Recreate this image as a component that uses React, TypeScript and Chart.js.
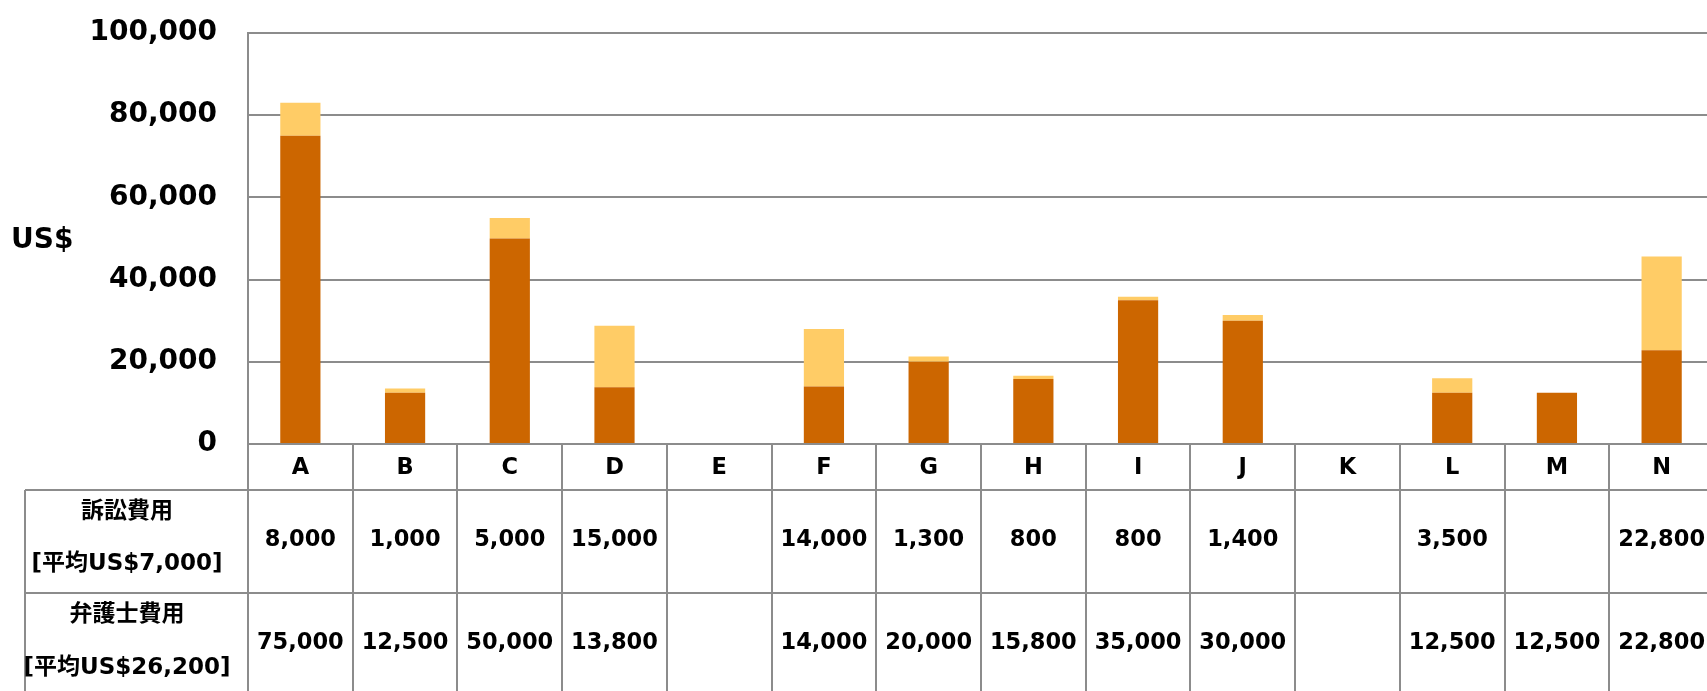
import React, { useEffect, useRef } from "react";
import { Chart, registerables } from "chart.js";

Chart.register(...registerables);

const categories = ["A", "B", "C", "D", "E", "F", "G", "H", "I", "J", "K", "L", "M", "N"];
const litigationCosts: (number | null)[] = [8000, 1000, 5000, 15000, null, 14000, 1300, 800, 800, 1400, null, 3500, null, 22800];
const attorneyFees: (number | null)[] = [75000, 12500, 50000, 13800, null, 14000, 20000, 15800, 35000, 30000, null, 12500, 12500, 22800];
const litigationLabel = ["訴訟費用", "[平均US$7,000]"];
const attorneyLabel = ["弁護士費用", "[平均US$26,200]"];
const yTicks = { min: 0, max: 100000, step: 20000 };
const yUnit = "US$";

const FONT = "'DejaVu Sans', 'Noto Sans CJK JP', sans-serif";
const LINE = "#8c8c8c";

const tablePlugin = {
  id: "dataTable",
  afterDraw(chart: any) {
    const ctx = chart.ctx;
    const x = chart.scales.x;
    const area = chart.chartArea;
    const n = categories.length;
    const bottom = chart.height;
    const axisY = area.bottom;
    const headerBottom = axisY + 46;
    const row1Bottom = headerBottom + 103;
    const tableLeft = 25;
    const bounds: number[] = [];
    for (let i = 0; i <= n; i++) {
      if (i === 0) bounds.push(x.left);
      else if (i === n) bounds.push(x.right);
      else bounds.push((x.getPixelForValue(i - 1) + x.getPixelForValue(i)) / 2);
    }
    ctx.save();
    ctx.strokeStyle = LINE;
    ctx.lineWidth = 2;
    ctx.beginPath();
    for (let i = 0; i < n; i++) {
      ctx.moveTo(Math.round(bounds[i]), axisY);
      ctx.lineTo(Math.round(bounds[i]), bottom);
    }
    ctx.moveTo(tableLeft, headerBottom);
    ctx.lineTo(tableLeft, bottom);
    ctx.moveTo(tableLeft, headerBottom);
    ctx.lineTo(x.right, headerBottom);
    ctx.moveTo(tableLeft, row1Bottom);
    ctx.lineTo(x.right, row1Bottom);
    ctx.stroke();

    ctx.fillStyle = "#000";
    ctx.textAlign = "center";
    ctx.textBaseline = "middle";
    ctx.font = `bold 22.5px ${FONT}`;
    for (let i = 0; i < n; i++) {
      const cx = x.getPixelForValue(i);
      const a = litigationCosts[i];
      const b = attorneyFees[i];
      if (a != null) ctx.fillText(a.toLocaleString("en-US"), cx, headerBottom + 50);
      if (b != null) ctx.fillText(b.toLocaleString("en-US"), cx, row1Bottom + 50);
    }
    ctx.font = `bold 23px ${FONT}`;
    const hx = 127;
    ctx.fillText(litigationLabel[0], hx, headerBottom + 22);
    ctx.fillText(litigationLabel[1], hx, headerBottom + 74);
    ctx.fillText(attorneyLabel[0], hx, row1Bottom + 22);
    ctx.fillText(attorneyLabel[1], hx, row1Bottom + 75);

    ctx.textAlign = "left";
    ctx.font = `bold 28px ${FONT}`;
    ctx.fillText(yUnit, 11, 241);
    ctx.restore();
  },
};

export default function App() {
  const ref = useRef<HTMLCanvasElement | null>(null);
  useEffect(() => {
    if (!ref.current) return;
    const chart = new Chart(ref.current, {
      type: "bar",
      data: {
        labels: categories,
        datasets: [
          {
            label: "弁護士費用",
            data: attorneyFees,
            backgroundColor: "#CC6600",
            categoryPercentage: 0.8,
            barPercentage: 0.48,
          },
          {
            label: "訴訟費用",
            data: litigationCosts,
            backgroundColor: "#FFCC66",
            categoryPercentage: 0.8,
            barPercentage: 0.48,
          },
        ],
      },
      options: {
        responsive: false,
        animation: false,
        devicePixelRatio: 1,
        layout: { padding: { top: 33, left: 0, right: 0, bottom: 0 } },
        plugins: { legend: { display: false }, tooltip: { enabled: false } },
        scales: {
          x: {
            stacked: true,
            grid: { display: false, drawTicks: false },
            border: { display: true, color: LINE, width: 2 },
            ticks: {
              color: "#000",
              font: { family: FONT, size: 22.5, weight: "bold" },
              padding: 11,
            },
            afterFit: (s: any) => {
              s.height = 247;
            },
          },
          y: {
            stacked: true,
            min: yTicks.min,
            max: yTicks.max,
            grid: {
              color: LINE,
              lineWidth: 2,
              drawTicks: true,
              tickLength: 31,
              tickColor: "rgba(0,0,0,0)",
            },
            border: { display: true, color: LINE, width: 2 },
            ticks: {
              stepSize: yTicks.step,
              color: "#000",
              padding: 0,
              font: { family: FONT, size: 28, weight: "bold" },
              callback: (v: any) => Number(v).toLocaleString("en-US"),
            },
            afterFit: (s: any) => {
              s.width = 248;
            },
          },
        },
      },
      plugins: [tablePlugin],
    });
    return () => chart.destroy();
  }, []);
  return (
    <div
      style={{
        position: "fixed",
        left: 0,
        top: 0,
        width: 1707,
        height: 691,
        overflow: "hidden",
        background: "#fff",
      }}
    >
      <canvas ref={ref} width={1714} height={691} style={{ display: "block" }} />
    </div>
  );
}
